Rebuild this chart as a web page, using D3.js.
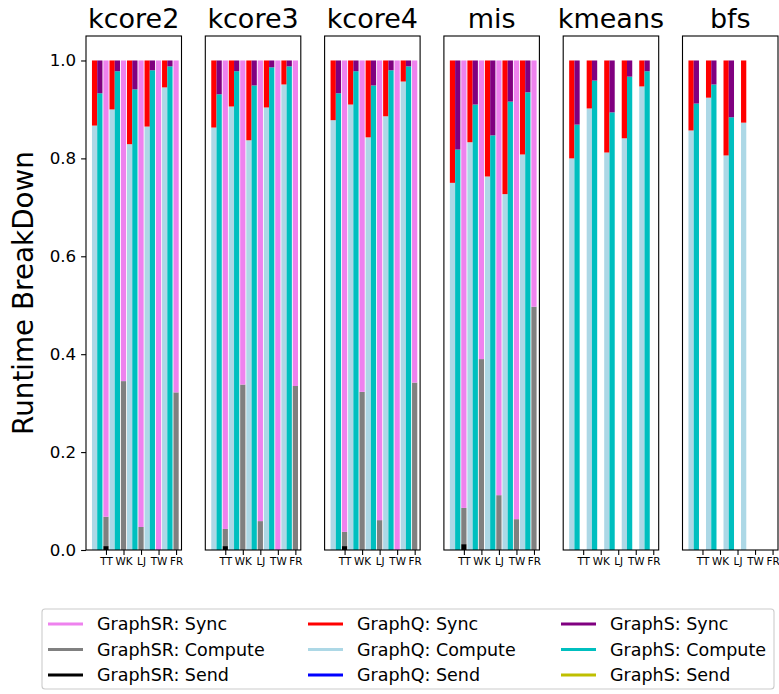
<!DOCTYPE html>
<html>
<head>
<meta charset="utf-8">
<script src="https://cdn.jsdelivr.net/npm/d3@7"></script>
<style>
  html, body { margin: 0; padding: 0; background: #fff; }
  svg { display: block; font-family: "DejaVu Sans", sans-serif; }
</style>
</head>
<body>
<svg id="chart" width="779" height="694"></svg>
<script>
// Workloads (one panel each) and input graphs (one group of bars each)
const panels = ["kcore2", "kcore3", "kcore4", "mis", "kmeans", "bfs"];
const datasets = ["TT", "WK", "LJ", "TW", "FR"];
const yTicks = [0.0, 0.2, 0.4, 0.6, 0.8, 1.0];

// GraphQ runtime fractions, one row per panel (null = not run)
const qSend = [
  [0, 0, 0, 0, 0],
  [0, 0, 0, 0, 0],
  [0, 0, 0, 0, 0],
  [0, 0, 0, 0, 0],
  [0, 0, 0, 0, 0],
  [0, 0, 0, 0, null]
];
const qCompute = [
  [0.867, 0.900, 0.829, 0.865, 0.945],
  [0.863, 0.906, 0.837, 0.904, 0.951],
  [0.878, 0.910, 0.843, 0.886, 0.957],
  [0.750, 0.833, 0.763, 0.727, 0.808],
  [0.800, 0.902, 0.812, 0.841, 0.947],
  [0.857, 0.924, 0.806, 0.873, null]
];
const qSync = [
  [0.133, 0.100, 0.171, 0.135, 0.055],
  [0.137, 0.094, 0.163, 0.096, 0.049],
  [0.122, 0.090, 0.157, 0.114, 0.043],
  [0.250, 0.167, 0.237, 0.273, 0.192],
  [0.200, 0.098, 0.188, 0.159, 0.053],
  [0.143, 0.076, 0.194, 0.127, null]
];

// GraphS runtime fractions
const sSend = [
  [0, 0, 0, 0, 0],
  [0, 0, 0, 0, 0],
  [0, 0, 0, 0, 0],
  [0, 0, 0, 0, 0],
  [0, 0, 0, 0, 0],
  [0, 0, 0, null, null]
];
const sCompute = [
  [0.933, 0.978, 0.941, 0.980, 0.988],
  [0.931, 0.978, 0.949, 0.986, 0.988],
  [0.933, 0.978, 0.949, 0.980, 0.988],
  [0.818, 0.910, 0.847, 0.916, 0.935],
  [0.869, 0.959, 0.894, 0.967, 0.978],
  [0.912, 0.951, 0.884, null, null]
];
const sSync = [
  [0.067, 0.022, 0.059, 0.020, 0.012],
  [0.069, 0.022, 0.051, 0.014, 0.012],
  [0.067, 0.022, 0.051, 0.020, 0.012],
  [0.182, 0.090, 0.153, 0.084, 0.065],
  [0.131, 0.041, 0.106, 0.033, 0.022],
  [0.088, 0.049, 0.116, null, null]
];

// GraphSR runtime fractions (kmeans and bfs not run)
const srSend = [
  [0.008, 0, 0, 0, 0],
  [0.008, 0, 0, 0, 0],
  [0.008, 0, 0, 0, 0],
  [0.012, 0, 0, 0, 0],
  [null, null, null, null, null],
  [null, null, null, null, null]
];
const srCompute = [
  [0.060, 0.345, 0.047, 0.000, 0.322],
  [0.035, 0.338, 0.059, 0.000, 0.335],
  [0.029, 0.323, 0.061, 0.000, 0.342],
  [0.074, 0.390, 0.112, 0.063, 0.497],
  [null, null, null, null, null],
  [null, null, null, null, null]
];
const srSync = [
  [0.932, 0.655, 0.953, 1.000, 0.678],
  [0.957, 0.662, 0.941, 1.000, 0.665],
  [0.963, 0.677, 0.939, 1.000, 0.658],
  [0.914, 0.610, 0.888, 0.937, 0.503],
  [null, null, null, null, null],
  [null, null, null, null, null]
];

// Systems: bar offset (in group units), bar width, and stacked segments bottom-up
const systems = [
  { name: "GraphQ", left: -0.80, width: 0.30,
    parts: [ { data: qSend, color: "#0000ff" }, { data: qCompute, color: "#add8e6" }, { data: qSync, color: "#ff0000" } ] },
  { name: "GraphS", left: -0.50, width: 0.30,
    parts: [ { data: sSend, color: "#bfbf00" }, { data: sCompute, color: "#00bfbf" }, { data: sSync, color: "#800080" } ] },
  { name: "GraphSR", left: -0.15, width: 0.30,
    parts: [ { data: srSend, color: "#000000" }, { data: srCompute, color: "#808080" }, { data: srSync, color: "#ee82ee" } ] }
];

// Legend entries, column by column
const legendItems = [
  { label: "GraphSR: Sync", color: "#ee82ee" },
  { label: "GraphSR: Compute", color: "#808080" },
  { label: "GraphSR: Send", color: "#000000" },
  { label: "GraphQ: Sync", color: "#ff0000" },
  { label: "GraphQ: Compute", color: "#add8e6" },
  { label: "GraphQ: Send", color: "#0000ff" },
  { label: "GraphS: Sync", color: "#800080" },
  { label: "GraphS: Compute", color: "#00bfbf" },
  { label: "GraphS: Send", color: "#bfbf00" }
];

// Layout
const svg = d3.select("#chart");
const plotTop = 36, plotBottom = 550;
const panelLeft0 = 86, panelStep = 119.3, panelWidth = 95.5;

const y = d3.scaleLinear().domain([0, 1.05]).range([plotBottom, plotTop]);

panels.forEach((name, p) => {
  const x0 = panelLeft0 + p * panelStep;
  const x = d3.scaleLinear().domain([-1.14, 4.31]).range([x0, x0 + panelWidth]);
  const g = svg.append("g");

  // stacked bars
  systems.forEach(sys => {
    datasets.forEach((ds, i) => {
      let base = 0;
      sys.parts.forEach(part => {
        const v = part.data[p][i];
        if (v === null || v === undefined) return;
        const yTop = y(base + v), yBot = y(base);
        g.append("rect")
          .attr("x", x(i + sys.left))
          .attr("width", x(i + sys.left + sys.width) - x(i + sys.left))
          .attr("y", yTop)
          .attr("height", Math.max(0, yBot - yTop))
          .attr("fill", part.color);
        base += v;
      });
    });
  });

  // x axis
  const xAxis = d3.axisBottom(x)
    .tickValues(d3.range(datasets.length))
    .tickFormat(i => datasets[i])
    .tickSize(4.9).tickPadding(2.5);
  const gx = g.append("g").attr("transform", `translate(0,${plotBottom})`).call(xAxis);
  gx.select(".domain").remove();
  gx.selectAll("line").attr("stroke", "#000").attr("stroke-width", 1.1);
  gx.selectAll("text").attr("font-size", 10.4).attr("fill", "#000")
    .attr("font-family", "DejaVu Sans, sans-serif");

  // y axis on first panel only
  if (p === 0) {
    const yAxis = d3.axisLeft(y).tickValues(yTicks).tickFormat(d3.format(".1f"))
      .tickSize(4.9).tickPadding(4.9);
    const gy = g.append("g").attr("transform", `translate(${x0},0)`).call(yAxis);
    gy.select(".domain").remove();
    gy.selectAll("line").attr("stroke", "#000").attr("stroke-width", 1.1);
    gy.selectAll("text").attr("font-size", 16.7).attr("fill", "#000")
      .attr("font-family", "DejaVu Sans, sans-serif");
  }

  // frame
  g.append("rect")
    .attr("x", x0).attr("y", plotTop)
    .attr("width", panelWidth).attr("height", plotBottom - plotTop)
    .attr("fill", "none").attr("stroke", "#000").attr("stroke-width", 1.1);

  // title
  g.append("text")
    .attr("x", x0 + panelWidth / 2).attr("y", plotTop - 8.3)
    .attr("text-anchor", "middle").attr("font-size", 27).attr("fill", "#000")
    .text(name);
});

// y label
svg.append("text")
  .attr("transform", `translate(33,${(plotTop + plotBottom) / 2}) rotate(-90)`)
  .attr("text-anchor", "middle").attr("font-size", 27.8).attr("fill", "#000")
  .text("Runtime BreakDown");

// legend
const legend = svg.append("g");
legend.append("rect")
  .attr("x", 42).attr("y", 609).attr("width", 732).attr("height", 80)
  .attr("rx", 3).attr("fill", "#fff").attr("stroke", "#cccccc").attr("stroke-width", 1.1);
const colX = [48, 308, 561];
const rowY = [624, 649.5, 675];
legendItems.forEach((item, k) => {
  const c = Math.floor(k / 3), r = k % 3;
  const lx = colX[c], ly = rowY[r];
  legend.append("line")
    .attr("x1", lx).attr("x2", lx + 35).attr("y1", ly).attr("y2", ly)
    .attr("stroke", item.color).attr("stroke-width", 2.8);
  legend.append("text")
    .attr("x", lx + 49).attr("y", ly).attr("dy", "0.36em")
    .attr("font-size", 17.5).attr("fill", "#000")
    .text(item.label);
});
</script>
</body>
</html>
